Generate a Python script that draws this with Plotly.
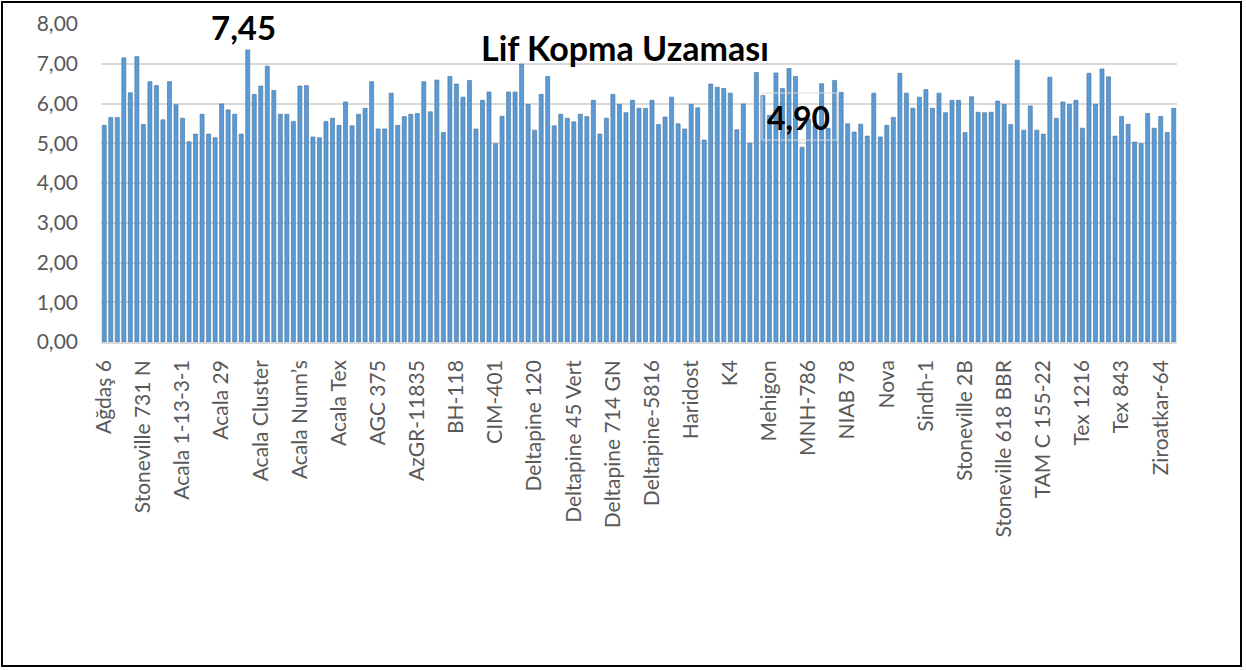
import plotly.graph_objects as go

# Lif Kopma Uzaması values (one bar per variety, 165 varieties)
values = [
    5.45, 5.65, 5.65, 7.15, 6.27, 7.18, 5.47, 6.55, 6.45, 5.59,
    6.55, 5.97, 5.63, 5.04, 5.23, 5.73, 5.23, 5.14, 5.99, 5.84,
    5.73, 5.23, 7.45, 6.23, 6.44, 6.94, 6.33, 5.73, 5.73, 5.55,
    6.44, 6.45, 5.16, 5.14, 5.55, 5.63, 5.45, 6.04, 5.44, 5.73,
    5.88, 6.55, 5.36, 5.36, 6.26, 5.45, 5.67, 5.73, 5.75, 6.55,
    5.79, 6.59, 5.27, 6.68, 6.49, 6.16, 6.58, 5.36, 6.08, 6.29,
    4.99, 5.68, 6.29, 6.29, 6.99, 5.98, 5.33, 6.23, 6.68, 5.44,
    5.73, 5.63, 5.54, 5.73, 5.67, 6.08, 5.23, 5.63, 6.23, 5.98,
    5.77, 6.08, 5.88, 5.88, 6.08, 5.47, 5.66, 6.16, 5.49, 5.36,
    5.98, 5.89, 5.08, 6.49, 6.41, 6.38, 6.26, 5.34, 5.99, 5.00,
    6.78, 6.20, 5.70, 6.77, 6.38, 6.88, 6.68, 4.90, 5.60, 5.45,
    6.50, 5.38, 6.58, 6.28, 5.49, 5.28, 5.48, 5.18, 6.26, 5.16,
    5.45, 5.65, 6.76, 6.26, 5.88, 6.16, 6.35, 5.88, 6.26, 5.77,
    6.08, 6.08, 5.27, 6.17, 5.78, 5.77, 5.78, 6.06, 5.98, 5.47,
    7.09, 5.33, 5.94, 5.33, 5.23, 6.66, 5.63, 6.04, 5.98, 6.08,
    5.38, 6.76, 5.98, 6.87, 6.67, 5.18, 5.67, 5.48, 5.03, 4.99,
    5.75, 5.38, 5.67, 5.27, 5.88,
]

# category labels shown on the axis (every 6th variety)
tick_labels = [
    "Ağdaş 6", "Stoneville 731 N", "Acala 1-13-3-1", "Acala 29",
    "Acala Cluster", "Acala Nunn’s", "Acala Tex", "AGC 375",
    "AzGR-11835", "BH-118", "CIM-401", "Deltapine 120",
    "Deltapine 45 Vert", "Deltapine 714 GN", "Deltapine-5816", "Haridost",
    "K4", "Mehigon", "MNH-786", "NIAB 78", "Nova", "Sindh-1",
    "Stoneville 2B", "Stoneville 618 BBR", "TAM C 155-22", "Tex 1216",
    "Tex 843", "Ziroatkar-64",
]
tick_step = 6
y_ticks = [0, 1, 2, 3, 4, 5, 6, 7, 8]

title_text = "Lif Kopma Uzaması"
max_label = "7,45"
min_label = "4,90"

x_idx = list(range(len(values)))
tick_positions = x_idx[::tick_step][: len(tick_labels)]

W, H = 1246, 670
L, R, T, B = 101, 69, 24, 328
PW, PH = W - L - R, H - T - B


def px(xp):
    return (xp - L) / PW


def py(yp):
    return (H - B - yp) / PH


FONT = "Lato"
GREY = "#595959"

fig = go.Figure(
    go.Bar(
        x=x_idx,
        y=values,
        marker=dict(color="#5b9bd5", line=dict(color="#41719c", width=0.6)),
        hoverinfo="y",
    )
)

fig.update_layout(
    width=W,
    height=H,
    margin=dict(l=L, r=R, t=T, b=B, autoexpand=False),
    paper_bgcolor="white",
    plot_bgcolor="white",
    showlegend=False,
    bargap=0.38,
    separators=",.",
    font=dict(family=FONT, color=GREY),
    xaxis=dict(
        range=[-0.5, len(values) - 0.5],
        tickmode="array",
        tickvals=tick_positions,
        ticktext=tick_labels,
        tickangle=-90,
        tickfont=dict(family=FONT, size=21, color=GREY),
        showgrid=False,
        showline=True,
        linecolor="#d9d9d9",
        linewidth=1.5,
        ticks="",
        ticklabelstandoff=8,
        zeroline=False,
    ),
    yaxis=dict(
        range=[0, 8],
        tickmode="array",
        tickvals=y_ticks,
        tickformat=".2f",
        tickfont=dict(family=FONT, size=21, color=GREY),
        showgrid=True,
        gridcolor="#d9d9d9",
        gridwidth=1.5,
        zeroline=False,
        showline=False,
        ticks="",
        ticklabelstandoff=22,
    ),
    annotations=[
        dict(
            text=f"<b>{title_text}</b>",
            xref="paper", yref="paper",
            x=px(624.5), y=py(48),
            xanchor="center", yanchor="middle",
            showarrow=False,
            font=dict(family=FONT, size=34, color="black"),
        ),
        dict(
            text=f"<b>{max_label}</b>",
            xref="paper", yref="paper",
            x=px(243.5), y=py(27),
            xanchor="center", yanchor="middle",
            showarrow=False,
            bgcolor="white",
            borderpad=2,
            font=dict(family=FONT, size=33, color="black"),
        ),
        dict(
            text=f"<b>{min_label}</b>",
            xref="paper", yref="paper",
            x=px(798), y=py(117),
            xanchor="center", yanchor="middle",
            showarrow=False,
            font=dict(family=FONT, size=32, color="black"),
        ),
    ],
    shapes=[
        dict(
            type="rect", xref="paper", yref="paper",
            x0=px(762), x1=px(837), y0=py(140), y1=py(93),
            line=dict(color="#d9d9d9", width=1),
            layer="above",
        ),
        dict(
            type="rect", xref="paper", yref="paper",
            x0=px(2), x1=px(1241), y0=py(666), y1=py(2),
            line=dict(color="black", width=2),
            layer="above",
        ),
    ],
)

fig.write_html(
    "out.html",
    config={"displayModeBar": False},
    post_script="document.body.style.margin='0';document.body.style.overflow='hidden';",
)
